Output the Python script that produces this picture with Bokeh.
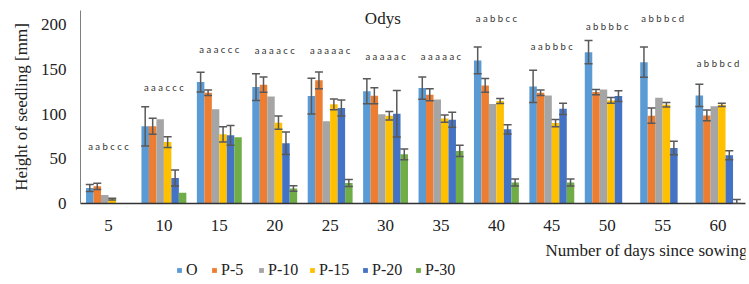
from bokeh.plotting import figure
from bokeh.layouts import column
from bokeh.models import (ColumnDataSource, Whisker, TeeHead, Legend, LegendItem,
                          Label, FixedTicker)
from bokeh.transform import dodge
from bokeh.core.properties import value
from bokeh.embed import file_html
from bokeh.resources import INLINE

# ---------------- data ----------------
days = ["5", "10", "15", "20", "25", "30", "35", "40", "45", "50", "55", "60"]
series = ["O", "P-5", "P-10", "P-15", "P-20", "P-30"]
colors = ["#5B9BD5", "#ED7D31", "#A5A5A5", "#FFC000", "#4472C4", "#70AD47"]

o_vals   = [17.4, 86.4, 135.9, 130.3, 120.2, 125.5, 129.2, 160.1, 131.0, 169.4, 158.2, 121.0]
p5_vals  = [19.3, 86.4, 124.0, 133.0, 137.8, 120.6, 121.7, 132.2, 124.0, 124.7, 98.3, 98.6]
p10_vals = [9.6, 94.2, 105.4, 119.8, 92.0, 99.8, 116.5, 111.4, 121.0, 127.7, 118.3, 108.7]
p15_vals = [4.8, 68.8, 77.4, 90.5, 111.0, 98.3, 95.0, 114.7, 90.0, 115.4, 110.4, 110.4]
p20_vals = [0.0, 28.6, 76.3, 67.4, 106.8, 100.5, 93.8, 83.0, 106.0, 120.2, 62.1, 54.0]
p30_vals = [0.0, 11.9, 74.1, 16.8, 23.0, 55.0, 58.8, 23.5, 23.5, 0.0, 0.0, 0.0]

o_err   = [4.0, 22.0, 11.0, 15.0, 20.0, 14.0, 12.5, 15.0, 18.0, 13.0, 17.0, 12.5]
p5_err  = [3.5, 9.0, 3.0, 8.5, 9.5, 9.0, 6.7, 7.6, 3.0, 3.0, 8.5, 6.0]
p10_err = [0, 0, 0, 0, 0, 0, 0, 0, 0, 0, 0, 0]
p15_err = [1.0, 6.0, 8.5, 7.5, 6.0, 4.8, 4.0, 2.8, 4.0, 3.3, 2.5, 1.8]
p20_err = [0, 9.0, 11.0, 12.5, 9.0, 26.0, 8.4, 5.2, 6.3, 6.0, 7.6, 5.0]
p30_err = [0, 0, 0, 3.0, 4.0, 6.0, 6.3, 4.0, 4.0, 0, 0, 4.5]

letters = ["a a b c c c", "a a a c c c", "a a a c c c", "a a a a c c",
           "a a a a a c", "a a a a a c", "a a a a a c", "a a b b c c",
           "a a b b b c", "a b b b b c", "a b b b c d", "a b b b c d"]
letter_y = [64, 130, 172.4, 171.3, 171.3, 165, 165, 207, 175.6, 198, 207, 156.8]

title_text = "Odys"
y_title = "Height of seedling [mm]"
x_title = "Number of days since sowing"

all_vals = [o_vals, p5_vals, p10_vals, p15_vals, p20_vals, p30_vals]
all_errs = [o_err, p5_err, p10_err, p15_err, p20_err, p30_err]

serif = "Liberation Serif"
txt_col = "#222222"
bar_w = 0.135
W = 749
LEFT = 80
RIGHT = 4

p = figure(width=W, height=237, x_range=(-0.505, 11.495), y_range=(0, 216),
           output_backend="svg", toolbar_location=None,
           min_border_left=LEFT, min_border_right=RIGHT, min_border_top=10,
           min_border_bottom=34)
p.outline_line_color = None
p.xgrid.visible = False
p.ygrid.visible = False

idx = list(range(len(days)))
for i, (name, vals, errs, col) in enumerate(zip(series, all_vals, all_errs, colors)):
    off = (i - 2.5) * bar_w
    src = ColumnDataSource(dict(x=idx, top=vals))
    p.vbar(x=dodge("x", off, range=p.x_range), top="top", width=bar_w,
           source=src, fill_color=col, line_color=None)
    wx = [k for k in idx if errs[k] > 0]
    if wx:
        wsrc = ColumnDataSource(dict(
            x=wx,
            upper=[vals[k] + errs[k] for k in wx],
            lower=[max(vals[k] - errs[k], 0) for k in wx]))
        w = Whisker(base=dodge("x", off, range=p.x_range), upper="upper", lower="lower",
                    source=wsrc, line_color="#595959", line_width=1.5, level="overlay",
                    upper_head=TeeHead(size=8, line_color="#595959", line_width=1.5),
                    lower_head=TeeHead(size=8, line_color="#595959", line_width=1.5))
        p.add_layout(w)

lsrc = ColumnDataSource(dict(x=idx, y=letter_y, t=letters))
p.text(x="x", y="y", text="t", source=lsrc, text_align="center",
       text_baseline="middle", text_font=value("Lato"), text_font_size="9.5px",
       text_color="#333333")

p.add_layout(Label(x=4.95, y=206.5, text=title_text, text_align="center",
                   text_baseline="middle", text_font=serif, text_font_size="17px",
                   text_color=txt_col))

# axes
p.yaxis.ticker = FixedTicker(ticks=[0, 50, 100, 150, 200])
p.yaxis.major_tick_line_color = None
p.yaxis.minor_tick_line_color = None
p.yaxis.major_tick_out = 0
p.yaxis.major_label_standoff = 14
p.yaxis.major_label_text_font = serif
p.yaxis.major_label_text_font_size = "17px"
p.yaxis.major_label_text_color = txt_col
p.yaxis.axis_line_color = "#7f7f7f"
p.yaxis.axis_label = y_title
p.yaxis.axis_label_text_font = serif
p.yaxis.axis_label_text_font_style = "normal"
p.yaxis.axis_label_text_font_size = "17px"
p.yaxis.axis_label_text_color = txt_col
p.yaxis.axis_label_standoff = 7

p.xaxis.ticker = FixedTicker(ticks=idx)
p.xaxis.major_label_overrides = {k: days[k] for k in idx}
p.xaxis.major_tick_line_color = None
p.xaxis.minor_tick_line_color = None
p.xaxis.major_tick_out = 0
p.xaxis.major_label_standoff = 16
p.xaxis.major_label_text_font = serif
p.xaxis.major_label_text_font_size = "17px"
p.xaxis.major_label_text_color = txt_col
p.xaxis.axis_line_color = "#333333"
p.xaxis.axis_line_width = 1.5

# ---- lower strip: x-axis title and legend ----
H2 = 47
q = figure(width=W, height=H2, output_backend="svg", toolbar_location=None,
           x_axis_location=None, y_axis_location=None,
           min_border_left=LEFT, min_border_right=RIGHT, min_border_top=0,
           min_border_bottom=0)
q.outline_line_color = None
q.xgrid.visible = False
q.ygrid.visible = False

q.add_layout(Label(x=W - LEFT - 2, y=H2 - 13, x_units="screen", y_units="screen",
                   text=x_title, text_align="right", text_baseline="middle",
                   text_font=serif, text_font_size="17px", text_color=txt_col))

# one legend entry per series, each placed where the reference shows it
legend_x = [96, 131, 178, 229, 282, 335]
for name, col, lx in zip(series, colors, legend_x):
    r = q.vbar(x=[0], top=[0], width=0.5, fill_color=col, line_color=None)
    lg = Legend(items=[LegendItem(label=name, renderers=[r])],
                orientation="horizontal", location=(lx, 5),
                glyph_width=6, glyph_height=6, label_standoff=4, spacing=0,
                label_text_font=serif, label_text_font_size="16px",
                label_text_color=txt_col, border_line_color=None,
                background_fill_alpha=0, padding=0, margin=0,
                label_height=16)
    q.add_layout(lg, "center")

layout = column(p, q, spacing=0)
open("out.html", "w").write(file_html(layout, INLINE))
